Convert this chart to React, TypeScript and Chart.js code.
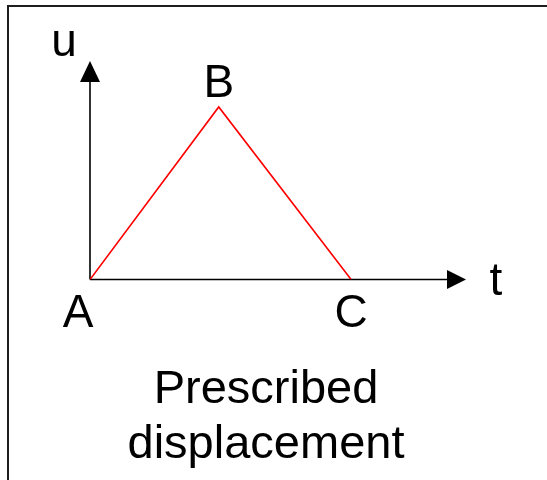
import React, { useEffect, useRef } from "react";
import { Chart, registerables } from "chart.js";

Chart.register(...registerables);

// Data
const pointLabels = ["A", "B", "C"];
const tValues = [0, 0.493, 1];
const uValues = [0, 1, 0];
const tAxisMax = 1.44;
const uAxisMax = 1.266;
const xAxisLabel = "t";
const yAxisLabel = "u";
const captionLines = ["Prescribed", "displacement"];

const FONT = '"Liberation Sans", Arial, Helvetica, sans-serif';

const diagramPlugin = {
  id: "diagram",
  beforeDraw(chart: any) {
    const ctx = chart.ctx;
    ctx.save();
    ctx.fillStyle = "#ffffff";
    ctx.fillRect(0, 0, chart.width, chart.height);
    // frame (left + top)
    ctx.strokeStyle = "#1e1e1e";
    ctx.lineWidth = 2;
    ctx.beginPath();
    ctx.moveTo(8, chart.height);
    ctx.lineTo(8, 6);
    ctx.lineTo(chart.width, 6);
    ctx.stroke();

    const xs = chart.scales.x;
    const ys = chart.scales.y;
    const ox = xs.getPixelForValue(0);
    const oy = ys.getPixelForValue(0);
    const xTip = xs.getPixelForValue(tAxisMax);
    const yTip = ys.getPixelForValue(uAxisMax);

    ctx.strokeStyle = "#000";
    ctx.fillStyle = "#000";
    ctx.lineWidth = 1.6;
    ctx.beginPath();
    ctx.moveTo(ox, oy);
    ctx.lineTo(xTip - 18, oy);
    ctx.moveTo(ox, oy);
    ctx.lineTo(ox, yTip + 19);
    ctx.stroke();
    // arrow heads
    ctx.beginPath();
    ctx.moveTo(xTip, oy);
    ctx.lineTo(xTip - 19, oy - 9.5);
    ctx.lineTo(xTip - 19, oy + 9.5);
    ctx.closePath();
    ctx.fill();
    ctx.beginPath();
    ctx.moveTo(ox, yTip);
    ctx.lineTo(ox - 10, yTip + 21);
    ctx.lineTo(ox + 10, yTip + 21);
    ctx.closePath();
    ctx.fill();
    ctx.restore();
  },
  afterDraw(chart: any) {
    const ctx = chart.ctx;
    const xs = chart.scales.x;
    const ys = chart.scales.y;
    const ox = xs.getPixelForValue(0);
    const oy = ys.getPixelForValue(0);
    const xTip = xs.getPixelForValue(tAxisMax);
    const yTip = ys.getPixelForValue(uAxisMax);
    ctx.save();
    ctx.fillStyle = "#000";
    ctx.textAlign = "center";
    ctx.textBaseline = "alphabetic";
    ctx.font = `46px ${FONT}`;
    ctx.fillText(yAxisLabel, ox - 26, yTip - 5);
    ctx.fillText(xAxisLabel, xTip + 30, oy + 15);
    const meta = chart.getDatasetMeta(0);
    meta.data.forEach((pt: any, i: number) => {
      const lbl = pointLabels[i];
      if (uValues[i] > 0) {
        ctx.fillText(lbl, pt.x, pt.y - 10);
      } else if (i === 0) {
        ctx.fillText(lbl, pt.x - 12, pt.y + 47);
      } else {
        ctx.fillText(lbl, pt.x, pt.y + 47);
      }
    });
    ctx.font = `47px ${FONT}`;
    ctx.fillText(captionLines[0], 266, 403);
    ctx.fillText(captionLines[1], 266, 458);
    ctx.restore();
  },
};

export default function App() {
  const ref = useRef<HTMLCanvasElement>(null);
  useEffect(() => {
    if (!ref.current) return;
    const chart = new Chart(ref.current, {
      type: "line",
      data: {
        datasets: [
          {
            data: tValues.map((t, i) => ({ x: t, y: uValues[i] })),
            borderColor: "#ff0000",
            borderWidth: 1.6,
            pointRadius: 0,
            fill: false,
            tension: 0,
          },
        ],
      },
      options: {
        responsive: false,
        animation: false,
        layout: { padding: { left: 90, right: 81, top: 61, bottom: 200.5 } },
        plugins: {
          legend: { display: false },
          title: { display: false },
          tooltip: { enabled: false },
        },
        scales: {
          x: { type: "linear", min: 0, max: tAxisMax, display: false },
          y: { type: "linear", min: 0, max: uAxisMax, display: false },
        },
      },
      plugins: [diagramPlugin],
    });
    return () => chart.destroy();
  }, []);
  return (
    <div style={{ position: "absolute", left: 0, top: 0, width: 547, height: 480 }}>
      <canvas ref={ref} width={547} height={480} style={{ width: 547, height: 480 }} />
    </div>
  );
}
